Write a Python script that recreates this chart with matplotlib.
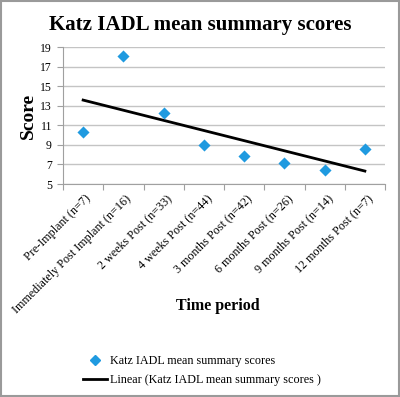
import numpy as np
import matplotlib
matplotlib.use("Agg")
import matplotlib.pyplot as plt
from matplotlib.lines import Line2D
from matplotlib.patches import Rectangle

categories = ["Pre-Implant (n=7)", "Immediately Post Implant (n=16)", "2 weeks Post (n=33)",
              "4 weeks Post (n=44)", "3 months Post (n=42)", "6 months Post (n=26)",
              "9 months Post (n=14)", "12 months Post (n=7)"]
scores = [10.28, 18.11, 12.29, 8.95, 7.87, 7.12, 6.44, 8.55]
yticks = [5, 7, 9, 11, 13, 15, 17, 19]

FONT = "Liberation Serif"
plt.rcParams['font.family'] = [FONT, 'DejaVu Serif']

fig = plt.figure(figsize=(4.0, 3.97), dpi=100)
fig.patches.append(Rectangle((0.002, 0.002), 0.996, 0.996, transform=fig.transFigure,
                             fill=False, edgecolor='#9a9a9a', linewidth=1.5))
ax = fig.add_axes([0.1575, 0.5365, 0.805, 0.345])

x = np.arange(1, len(categories) + 1)
ax.scatter(x, scores, marker='D', s=38, color='#1f9ae0', zorder=3, linewidths=0)
coef = np.polyfit(x, scores, 1)
ax.plot([x[0], x[-1]], np.polyval(coef, [x[0], x[-1]]), color='black', linewidth=2, zorder=2)

ax.set_xlim(0.5, len(categories) + 0.5)
ax.set_ylim(5, 19)
ax.set_yticks(yticks)
ax.set_yticklabels([str(t) for t in yticks], fontsize=8.5)
ax.yaxis.grid(True, color='#c4c4c4', linewidth=1)
ax.set_axisbelow(True)
ax.tick_params(axis='y', length=4, color='#a0a0a0', pad=4)

ax.set_xticks(np.arange(0.5, len(categories) + 1, 1.0))
ax.set_xticklabels([])
ax.tick_params(axis='x', length=4, color='#a0a0a0')
for xi, lab in zip(x, categories):
    ax.text(xi + 0.05, 4.1, lab, rotation=45, ha='right', va='top', rotation_mode='anchor',
            fontsize=8.7, transform=ax.transData, clip_on=False)

for s in ['top', 'right']:
    ax.spines[s].set_visible(False)
ax.spines['left'].set_color('#a0a0a0')
ax.spines['bottom'].set_color('#a0a0a0')

ax.set_ylabel("Score", fontsize=14, fontweight='bold', labelpad=2)

fig.text(0.5, 0.938, "Katz IADL mean summary scores", ha='center', va='center',
         fontsize=15, fontweight='bold')
fig.text(0.545, 0.23, "Time period", ha='center', va='center', fontsize=11.5, fontweight='bold')

handles = [Line2D([], [], marker='D', color='#1f9ae0', linestyle='None', markersize=5),
           Line2D([], [], color='black', linewidth=2)]
labels = ["Katz IADL mean summary scores", "Linear (Katz IADL mean summary scores )"]
fig.legend(handles, labels, loc='center', bbox_to_anchor=(0.505, 0.066), frameon=False,
           fontsize=8.7, handlelength=2.0, handletextpad=0.2, labelspacing=0.6)

fig.savefig("out.png", dpi=100)
